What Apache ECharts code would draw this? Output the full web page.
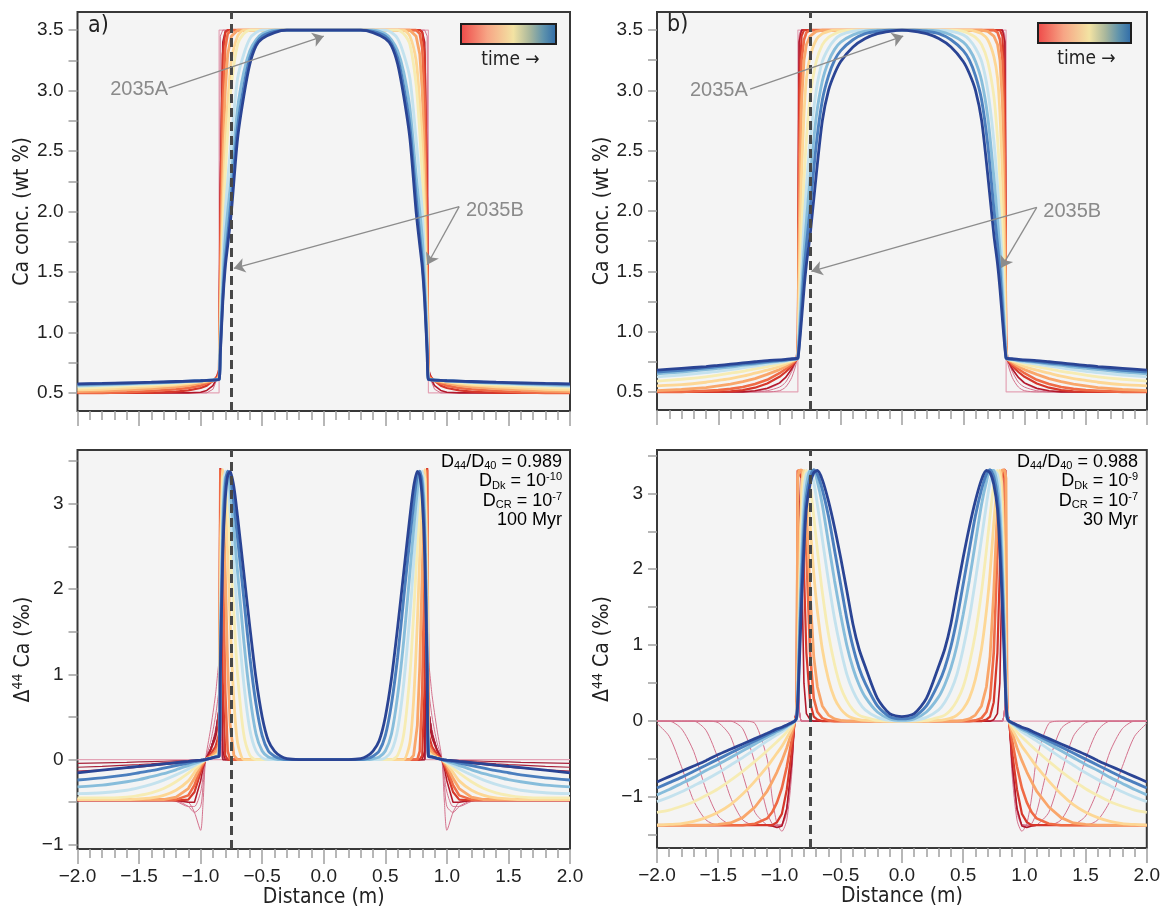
<!DOCTYPE html>
<html><head><meta charset="utf-8">
<script src="https://cdn.jsdelivr.net/npm/echarts@6/dist/echarts.min.js"></script>
<style>html,body{margin:0;padding:0;background:#fff}#c{width:1163px;height:909px}</style>
</head><body><div id="c"></div>
<script>
// ---------------- DATA (half profiles, x >= 0; profiles are symmetric about x = 0) ----------------
// Panel a (top): Ca concentration (wt %)
const xCaA = [0, 0.3, 0.4, 0.5, 0.55, 0.6, 0.65, 0.7, 0.75, 0.78, 0.8, 0.82, 0.84, 0.85, 0.88, 0.9, 0.95, 1.0, 1.1, 1.2, 1.4, 1.6, 1.8, 2.0];
const caA_p  = [3.5,3.5,3.5,3.5,3.5,3.5,3.5,3.5,3.5,3.5,3.5,3.5,3.45,0.68, 0.58,0.53,0.5,0.5,0.5,0.5,0.5,0.5,0.5,0.5];
const caA_1  = [3.5,3.5,3.5,3.5,3.5,3.5,3.5,3.5,3.5,3.5,3.49,3.4,2.2,0.7, 0.6,0.56,0.52,0.505,0.5,0.5,0.5,0.5,0.5,0.5];
const caA_2  = [3.5,3.5,3.5,3.5,3.5,3.5,3.5,3.5,3.5,3.5,3.48,3.3,2.0,0.66, 0.62,0.6,0.56,0.54,0.52,0.51,0.5,0.5,0.5,0.5];
const caA_3  = [3.5,3.5,3.5,3.5,3.5,3.5,3.5,3.5,3.5,3.47,3.35,2.9,1.6,0.64, 0.61,0.6,0.58,0.56,0.54,0.53,0.515,0.505,0.5,0.5];
const caA_4  = [3.5,3.5,3.5,3.5,3.5,3.5,3.5,3.5,3.45,3.3,3.0,2.4,1.3,0.63, 0.61,0.6,0.59,0.58,0.56,0.55,0.535,0.525,0.515,0.51];
const caA_5  = [3.5,3.5,3.5,3.5,3.5,3.5,3.5,3.45,3.25,2.9,2.6,2.0,1.1,0.62, 0.61,0.605,0.6,0.59,0.575,0.565,0.55,0.54,0.53,0.525];
const caA_6  = [3.5,3.5,3.5,3.5,3.5,3.5,3.47,3.38,3.05,2.65,2.3,1.8,1.0,0.62, 0.61,0.605,0.6,0.595,0.585,0.575,0.565,0.555,0.545,0.54];
const caA_7  = [3.5,3.5,3.5,3.5,3.48,3.43,3.3,3.1,2.6,2.25,2.0,1.6,0.95,0.62, 0.61,0.607,0.603,0.6,0.593,0.587,0.577,0.568,0.56,0.555];
const caA_8  = [3.5,3.5,3.5,3.47,3.42,3.33,3.15,2.85,2.3,2.0,1.78,1.4,0.9,0.61, 0.608,0.606,0.603,0.6,0.595,0.59,0.582,0.575,0.568,0.563];
const caA_9  = [3.5,3.5,3.49,3.45,3.39,3.27,3.03,2.7,2.12,1.8,1.6,1.3,0.85,0.61, 0.607,0.605,0.603,0.6,0.596,0.592,0.585,0.58,0.575,0.57];
const caA_10 = [3.5,3.5,3.48,3.43,3.37,3.22,2.95,2.6,2.0,1.72,1.54,1.25,0.82,0.61, 0.607,0.605,0.603,0.6,0.597,0.594,0.588,0.583,0.578,0.575];

// initial step profile (both top panels)
const xInitCa = [0, 0.85, 0.85, 2.0];
const yInitCa = [3.5, 3.5, 0.5, 0.5];

// Panel b (top): Ca concentration (wt %)
const xCaB = [0, 0.1, 0.2, 0.3, 0.4, 0.5, 0.55, 0.6, 0.65, 0.7, 0.75, 0.78, 0.8, 0.82, 0.84, 0.85, 0.86, 0.9, 0.95, 1.0, 1.1, 1.2, 1.3, 1.4, 1.5, 1.6, 1.8, 2.0];
const caB_p1 = [3.5,3.5,3.5,3.5,3.5,3.5,3.5,3.5,3.5,3.5,3.5,3.5,3.5,3.5,3.45,1.2, 0.76,0.62,0.54,0.51,0.5,0.5,0.5,0.5,0.5,0.5,0.5,0.5];
const caB_p2 = [3.5,3.5,3.5,3.5,3.5,3.5,3.5,3.5,3.5,3.5,3.5,3.5,3.5,3.5,3.42,1.1, 0.77,0.67,0.58,0.54,0.51,0.5,0.5,0.5,0.5,0.5,0.5,0.5];
const caB_p3 = [3.5,3.5,3.5,3.5,3.5,3.5,3.5,3.5,3.5,3.5,3.5,3.5,3.5,3.5,3.4,1.0, 0.77,0.7,0.62,0.57,0.525,0.505,0.5,0.5,0.5,0.5,0.5,0.5];
const caB_1  = [3.5,3.5,3.5,3.5,3.5,3.5,3.5,3.5,3.5,3.5,3.5,3.5,3.5,3.5,3.4,1.0, 0.77,0.69,0.62,0.575,0.53,0.51,0.5,0.5,0.5,0.5,0.5,0.5];
const caB_2  = [3.5,3.5,3.5,3.5,3.5,3.5,3.5,3.5,3.5,3.5,3.5,3.5,3.5,3.45,3.0,0.9, 0.77,0.715,0.665,0.625,0.57,0.535,0.515,0.505,0.5,0.5,0.5,0.5];
const caB_3  = [3.5,3.5,3.5,3.5,3.5,3.5,3.5,3.5,3.5,3.5,3.5,3.48,3.42,3.25,2.4,0.85, 0.77,0.73,0.69,0.655,0.6,0.565,0.54,0.525,0.515,0.51,0.5,0.5];
const caB_4  = [3.5,3.5,3.5,3.5,3.5,3.5,3.5,3.5,3.5,3.49,3.45,3.38,3.25,2.9,1.8,0.8, 0.77,0.745,0.71,0.685,0.645,0.61,0.585,0.565,0.55,0.535,0.52,0.51];
const caB_5  = [3.5,3.5,3.5,3.5,3.5,3.5,3.5,3.49,3.47,3.42,3.28,3.1,2.8,2.3,1.4,0.8, 0.775,0.755,0.73,0.71,0.68,0.655,0.63,0.61,0.595,0.58,0.56,0.55];
const caB_6  = [3.5,3.5,3.5,3.5,3.5,3.49,3.47,3.44,3.38,3.24,2.95,2.6,2.25,1.8,1.15,0.79, 0.775,0.76,0.745,0.73,0.71,0.69,0.67,0.655,0.64,0.625,0.605,0.59];
const caB_7  = [3.5,3.5,3.5,3.5,3.49,3.46,3.42,3.35,3.24,3.0,2.58,2.2,1.9,1.5,1.02,0.78, 0.775,0.765,0.755,0.745,0.73,0.715,0.7,0.685,0.67,0.66,0.64,0.625];
const caB_8  = [3.5,3.5,3.5,3.49,3.46,3.4,3.34,3.24,3.08,2.78,2.28,1.92,1.66,1.32,0.95,0.78, 0.775,0.77,0.76,0.755,0.745,0.73,0.72,0.705,0.695,0.685,0.665,0.65];
const caB_9  = [3.5,3.5,3.49,3.47,3.42,3.33,3.25,3.12,2.92,2.55,2.02,1.72,1.5,1.2,0.9,0.78, 0.775,0.77,0.765,0.76,0.75,0.74,0.73,0.72,0.71,0.7,0.68,0.665];
const caB_10 = [3.5,3.49,3.47,3.43,3.36,3.24,3.14,3.0,2.75,2.3,1.8,1.56,1.35,1.1,0.86,0.78, 0.777,0.775,0.77,0.765,0.76,0.75,0.74,0.73,0.72,0.71,0.695,0.68];

// Panel a (bottom): Δ44Ca (‰)
const xDA = [0, 0.2, 0.3, 0.35, 0.4, 0.45, 0.5, 0.55, 0.6, 0.65, 0.7, 0.73, 0.76, 0.78, 0.8, 0.82, 0.84, 0.85, 0.88, 0.92, 0.96, 0.98, 1.0, 1.05, 1.1, 1.2, 1.3, 1.4, 1.5, 1.6, 1.8, 2.0];
const dA_0  = [0,0,0,0,0,0,0,0,0,0,0,0,0,0,0,0,0,0, 0,0,0,0,0,0,0,0,0,0,0,0,0,0];
const dA_p1 = [0,0,0,0,0,0,0,0,0,0,0,0,0,0,0,0,0.5,1.15, 0.75,0.35,0,-0.5,-0.83,-0.62,-0.5,-0.47,-0.47,-0.47,-0.47,-0.47,-0.47,-0.47];
const dA_p2 = [0,0,0,0,0,0,0,0,0,0,0,0,0,0,0,0,0.4,0.8, 0.5,0.2,0,-0.3,-0.55,-0.62,-0.55,-0.48,-0.47,-0.47,-0.47,-0.47,-0.47,-0.47];
const dA_p3 = [0,0,0,0,0,0,0,0,0,0,0,0,0,0,0,0,0.3,0.55, 0.35,0.12,0,-0.2,-0.38,-0.55,-0.55,-0.49,-0.47,-0.47,-0.47,-0.47,-0.47,-0.47];
const dA_n1 = [0,0,0,0,0,0,0,0,0,0,0,0,0,0,0,0,2.5,0.6, 0.3,0.12,0,-0.002,-0.004,-0.008,-0.012,-0.016,-0.02,-0.024,-0.028,-0.032,-0.038,-0.045];
const dA_n2 = [0,0,0,0,0,0,0,0,0,0,0,0,0,0,0,0,2.5,0.6, 0.3,0.12,0,-0.003,-0.006,-0.013,-0.02,-0.03,-0.04,-0.05,-0.058,-0.065,-0.08,-0.09];
const dA_n3 = [0,0,0,0,0,0,0,0,0,0,0,0,0,0,0,0,2.5,0.6, 0.3,0.12,0,-0.005,-0.01,-0.02,-0.03,-0.045,-0.06,-0.075,-0.088,-0.1,-0.12,-0.135];
const dA_1  = [0,0,0,0,0,0,0,0,0,0,0,0,0,0,0,0.1,3.0,0.45, 0.25,0.1,0,-0.1,-0.25,-0.5,-0.5,-0.48,-0.48,-0.48,-0.48,-0.48,-0.48,-0.48];
const dA_2  = [0,0,0,0,0,0,0,0,0,0,0,0,0,0,0.05,0.9,3.42,0.3, 0.15,0.06,0,-0.07,-0.15,-0.38,-0.47,-0.48,-0.48,-0.48,-0.48,-0.48,-0.48,-0.48];
const dA_3  = [0,0,0,0,0,0,0,0,0,0,0,0,0,0.1,0.8,2.4,3.4,0.2, 0.1,0.04,0,-0.05,-0.1,-0.3,-0.42,-0.47,-0.47,-0.47,-0.47,-0.47,-0.47,-0.47];
const dA_4  = [0,0,0,0,0,0,0,0,0,0,0,0.05,0.4,1.1,2.2,3.3,2.6,0.15, 0.08,0.03,0,-0.035,-0.07,-0.22,-0.34,-0.44,-0.47,-0.47,-0.47,-0.47,-0.47,-0.47];
const dA_5  = [0,0,0,0,0,0,0,0,0,0,0.2,0.7,1.6,2.4,3.1,3.4,1.9,0.1, 0.05,0.02,0,-0.025,-0.05,-0.15,-0.25,-0.36,-0.42,-0.45,-0.46,-0.47,-0.47,-0.47];
const dA_6  = [0,0,0,0,0,0,0,0,0.05,0.3,1.0,1.7,2.5,3.0,3.35,3.3,1.6,0.08, 0.04,0.02,0,-0.02,-0.04,-0.1,-0.16,-0.26,-0.34,-0.39,-0.42,-0.44,-0.45,-0.45];
const dA_7  = [0,0,0,0,0,0,0.02,0.1,0.35,0.9,1.7,2.3,2.9,3.25,3.38,3.0,1.4,0.06, 0.035,0.015,0,-0.015,-0.03,-0.07,-0.11,-0.18,-0.24,-0.29,-0.33,-0.36,-0.39,-0.4];
const dA_8  = [0,0,0,0,0.01,0.03,0.1,0.3,0.75,1.4,2.2,2.7,3.15,3.35,3.3,2.8,1.2,0.05, 0.03,0.015,0,-0.01,-0.02,-0.045,-0.07,-0.12,-0.165,-0.2,-0.235,-0.26,-0.3,-0.32];
const dA_9  = [0,0,0,0.01,0.04,0.1,0.28,0.65,1.2,1.9,2.6,3.0,3.33,3.38,3.2,2.6,1.1,0.04, 0.03,0.015,0,-0.006,-0.012,-0.025,-0.04,-0.07,-0.1,-0.13,-0.155,-0.18,-0.215,-0.24];
const dA_10 = [0,0,0.01,0.04,0.1,0.22,0.5,0.95,1.55,2.2,2.85,3.2,3.38,3.33,3.05,2.4,1.0,0.04, 0.03,0.015,0,-0.003,-0.006,-0.013,-0.021,-0.036,-0.051,-0.066,-0.08,-0.095,-0.125,-0.155];

// Panel b (bottom): Δ44Ca (‰)
const xDB = [0, 0.1, 0.2, 0.3, 0.35, 0.4, 0.45, 0.5, 0.55, 0.6, 0.65, 0.69, 0.72, 0.75, 0.78, 0.8, 0.82, 0.84, 0.85, 0.86, 0.875, 0.9, 0.94, 0.98, 1.02, 1.06, 1.1, 1.2, 1.3, 1.4, 1.5, 1.6, 1.7, 1.8, 1.9, 2.0];
const dB_0  = [0,0,0,0,0,0,0,0,0,0,0,0,0,0,0,0,0,0,0, 0,0,0,0,0,0,0,0,0,0,0,0,0,0,0,0,0];
const dB_p1 = [0,0,0,0,0,0,0,0,0,0,0,0,0,0,0,0,0,0.2,3.3, 0.3,0,-0.7,-1.3,-1.45,-1.35,-1.0,-0.5,-0.03,0,0,0,0,0,0,0,0];
const dB_p2 = [0,0,0,0,0,0,0,0,0,0,0,0,0,0,0,0,0,0.2,3.3, 0.25,0,-0.6,-1.2,-1.38,-1.4,-1.35,-1.2,-0.55,-0.1,0,0,0,0,0,0,0];
const dB_p3 = [0,0,0,0,0,0,0,0,0,0,0,0,0,0,0,0,0,0.2,3.3, 0.2,0,-0.55,-1.15,-1.36,-1.38,-1.38,-1.37,-1.2,-0.7,-0.2,-0.02,0,0,0,0,0];
const dB_p4 = [0,0,0,0,0,0,0,0,0,0,0,0,0,0,0,0,0,0.2,3.3, 0.2,0,-0.55,-1.15,-1.36,-1.37,-1.37,-1.37,-1.37,-1.3,-1.0,-0.5,-0.12,0,0,0,0];
const dB_p5 = [0,0,0,0,0,0,0,0,0,0,0,0,0,0,0,0,0,0.2,3.3, 0.2,0,-0.55,-1.15,-1.36,-1.37,-1.37,-1.37,-1.37,-1.37,-1.36,-1.25,-0.9,-0.4,-0.1,0,0];
const dB_p6 = [0,0,0,0,0,0,0,0,0,0,0,0,0,0,0,0,0,0.2,3.3, 0.2,0,-0.55,-1.15,-1.36,-1.37,-1.37,-1.37,-1.37,-1.37,-1.37,-1.37,-1.3,-1.05,-0.6,-0.2,-0.03];
const dB_1  = [0,0,0,0,0,0,0,0,0,0,0,0,0,0.02,0.1,0.5,2.2,3.3,3.3, 0.15,0,-0.55,-1.15,-1.38,-1.4,-1.38,-1.37,-1.37,-1.37,-1.37,-1.37,-1.37,-1.37,-1.37,-1.37,-1.37];
const dB_2  = [0,0,0,0,0,0,0,0,0,0,0,0.02,0.06,0.25,0.9,2.0,3.2,3.32,3.3, 0.1,0,-0.4,-0.9,-1.22,-1.33,-1.37,-1.37,-1.37,-1.37,-1.37,-1.37,-1.37,-1.37,-1.37,-1.37,-1.37];
const dB_3  = [0,0,0,0,0,0,0,0,0,0.01,0.04,0.12,0.3,0.9,2.2,3.0,3.3,3.31,3.3, 0.08,0,-0.25,-0.6,-0.88,-1.07,-1.2,-1.28,-1.35,-1.37,-1.37,-1.37,-1.37,-1.37,-1.37,-1.37,-1.37];
const dB_4  = [0,0,0,0,0,0,0,0.01,0.03,0.08,0.2,0.45,0.85,1.7,2.8,3.2,3.31,3.3,3.2, 0.06,0,-0.15,-0.35,-0.52,-0.67,-0.8,-0.92,-1.13,-1.27,-1.34,-1.36,-1.37,-1.37,-1.37,-1.37,-1.37];
const dB_5  = [0,0,0,0.01,0.02,0.04,0.08,0.16,0.3,0.55,0.95,1.45,1.95,2.6,3.15,3.3,3.0,1.6,0.5, 0.05,0,-0.1,-0.22,-0.33,-0.42,-0.51,-0.6,-0.79,-0.96,-1.1,-1.2,-1.27,-1.32,-1.35,-1.36,-1.37];
const dB_6  = [0,0,0.01,0.05,0.08,0.15,0.27,0.45,0.75,1.15,1.7,2.25,2.7,3.1,3.3,3.2,2.6,1.3,0.45, 0.05,0,-0.06,-0.14,-0.21,-0.27,-0.33,-0.39,-0.53,-0.66,-0.78,-0.89,-0.98,-1.06,-1.12,-1.17,-1.2];
const dB_7  = [0,0.01,0.05,0.15,0.25,0.4,0.62,0.95,1.35,1.85,2.4,2.85,3.15,3.3,3.25,3.0,2.3,1.1,0.4, 0.05,0,-0.04,-0.09,-0.14,-0.18,-0.22,-0.26,-0.37,-0.48,-0.58,-0.68,-0.77,-0.85,-0.93,-1.0,-1.06];
const dB_8  = [0.01,0.03,0.12,0.32,0.48,0.7,1.0,1.4,1.85,2.35,2.85,3.15,3.3,3.3,3.1,2.75,2.05,0.95,0.35, 0.04,0,-0.03,-0.07,-0.11,-0.14,-0.18,-0.21,-0.3,-0.39,-0.48,-0.57,-0.65,-0.74,-0.82,-0.9,-0.97];
const dB_9  = [0.03,0.06,0.2,0.5,0.7,0.98,1.35,1.8,2.25,2.7,3.05,3.25,3.31,3.22,2.95,2.5,1.8,0.8,0.3, 0.04,0,-0.02,-0.06,-0.09,-0.12,-0.15,-0.18,-0.26,-0.34,-0.42,-0.5,-0.58,-0.66,-0.74,-0.81,-0.88];
const dB_10 = [0.06,0.1,0.3,0.72,0.95,1.28,1.72,2.15,2.55,2.9,3.18,3.3,3.27,3.12,2.8,2.26,1.55,0.65,0.25, 0.05,0,-0.02,-0.05,-0.08,-0.1,-0.13,-0.16,-0.23,-0.3,-0.37,-0.44,-0.52,-0.59,-0.66,-0.73,-0.8];

// reference line and annotations (data coordinates)
const dashX = -0.75;
const arrowsA = [[[-1.26, 3.02], [0.0, 3.45]], [[1.1, 2.04], [-0.73, 1.53]], [[1.1, 2.04], [0.84, 1.56]]];
const labelsA = [['2035A', -1.5, 3.01], ['2035B', 1.39, 2.01]];
const arrowsB = [[[-1.24, 3.01], [0.01, 3.45]], [[1.1, 2.03], [-0.74, 1.5]], [[1.1, 2.03], [0.81, 1.53]]];
const labelsB = [['2035A', -1.495, 3.0], ['2035B', 1.39, 2.0]];

// tick labels
const caTicks = [0.5, 1.0, 1.5, 2.0, 2.5, 3.0, 3.5];
const caMinor = [0.5, 0.75, 1.0, 1.25, 1.5, 1.75, 2.0, 2.25, 2.5, 2.75, 3.0, 3.25, 3.5];
const dTicks = [-1, 0, 1, 2, 3];
const dMinorA = [-1, -0.5, 0, 0.5, 1, 1.5, 2, 2.5, 3, 3.5];
const dMinorB = [-1.5, -1, -0.5, 0, 0.5, 1, 1.5, 2, 2.5, 3, 3.5];

// ---------------- STYLE ----------------
const TIME_COLORS = ['#b2182b', '#d6372b', '#ef6a45', '#f9a66a', '#fdd795', '#f6ecb4', '#c4e2ee', '#87bddb', '#4b7fbe', '#2a4494'];
const TIME_WIDTHS = [1.6, 2.2, 2.6, 2.8, 2.8, 2.8, 2.9, 2.9, 2.9, 2.8];
const PINK = '#d4728d';
const FONT_N = "'DejaVu Sans Condensed','DejaVu Sans',sans-serif";
const FONT_T = "'Liberation Sans Narrow','Liberation Sans',sans-serif";
const FONT_A = "'Liberation Sans',Arial,sans-serif";

function mirror(xs, ys) {
  const out = [];
  for (let i = xs.length - 1; i > 0; i--) out.push([-xs[i], ys[i]]);
  for (let i = 0; i < xs.length; i++) out.push([xs[i], ys[i]]);
  return out;
}
function line(gi, xs, ys, color, width, extra, smooth) {
  return Object.assign({
    type: 'line', xAxisIndex: gi, yAxisIndex: gi, data: mirror(xs, ys),
    showSymbol: false, symbol: 'none', silent: true, animation: false,
    smooth: smooth || false,
    lineStyle: { color: color, width: width }
  }, extra || {});
}
function overlay(arrows, labels) {
  const o = {
    markLine: {
      silent: true, animation: false, symbol: 'none', symbolSize: 11,
      label: { show: false },
      lineStyle: { color: '#8c8c8c', width: 1.3, type: 'solid' },
      data: [{ xAxis: dashX, lineStyle: { color: '#474747', width: 3, type: [9, 5] } }]
        .concat(arrows.map(a => [{ coord: a[0], symbol: 'none' }, { coord: a[1], symbol: 'arrow', symbolSize: 11 }]))
    }
  };
  if (labels.length) {
    o.markPoint = {
      silent: true, animation: false,
      data: labels.map(l => ({
        coord: [l[1], l[2]], symbol: 'circle', symbolSize: 0,
        label: { show: true, formatter: l[0], position: 'inside', color: '#8a8a8a', fontSize: 20, fontFamily: FONT_A }
      }))
    };
  }
  return o;
}
const SM = i => (i >= 4 ? 0.25 : false);

const series = [];
// grid 0: panel a top
series.push(line(0, xInitCa, yInitCa, '#e3a3b5', 1.2));
series.push(line(0, xCaA, caA_p, PINK, 1));
[caA_1, caA_2, caA_3, caA_4, caA_5, caA_6, caA_7, caA_8, caA_9, caA_10].forEach((ys, i) =>
  series.push(line(0, xCaA, ys, TIME_COLORS[i], TIME_WIDTHS[i], i === 9 ? overlay(arrowsA, labelsA) : null, SM(i))));
// grid 1: panel b top
series.push(line(1, xInitCa, yInitCa, '#e3a3b5', 1.2));
[caB_p1, caB_p2, caB_p3].forEach(ys => series.push(line(1, xCaB, ys, PINK, 1, null, 0.25)));
[caB_1, caB_2, caB_3, caB_4, caB_5, caB_6, caB_7, caB_8, caB_9, caB_10].forEach((ys, i) =>
  series.push(line(1, xCaB, ys, TIME_COLORS[i], TIME_WIDTHS[i], i === 9 ? overlay(arrowsB, labelsB) : null, SM(i))));
// grid 2: panel a bottom
series.push(line(2, xDA, dA_0, '#e3a3b5', 1.2));
[dA_p1, dA_p2, dA_p3].forEach(ys => series.push(line(2, xDA, ys, PINK, 1, null, 0.25)));
[dA_n1, dA_n2, dA_n3].forEach(ys => series.push(line(2, xDA, ys, '#a8233b', 1.2)));
[dA_1, dA_2, dA_3, dA_4, dA_5, dA_6, dA_7, dA_8, dA_9, dA_10].forEach((ys, i) =>
  series.push(line(2, xDA, ys, TIME_COLORS[i], TIME_WIDTHS[i], i === 9 ? overlay([], []) : null, SM(i))));
// grid 3: panel b bottom
series.push(line(3, xDB, dB_0, '#e3a3b5', 1.2));
[dB_p1, dB_p2, dB_p3, dB_p4, dB_p5, dB_p6].forEach(ys => series.push(line(3, xDB, ys, PINK, 1, null, 0.25)));
[dB_1, dB_2, dB_3, dB_4, dB_5, dB_6, dB_7, dB_8, dB_9, dB_10].forEach((ys, i) =>
  series.push(line(3, xDB, ys, TIME_COLORS[i], TIME_WIDTHS[i], i === 9 ? overlay([], []) : null, SM(i))));

const minus = s => s.replace('-', '\u2212');
const fmt1 = v => minus(v.toFixed(1));
const fmt0 = v => minus(String(Math.round(v)));

const gridStyle = { show: true, backgroundColor: '#f4f4f4', borderColor: '#383838', borderWidth: 2 };
const grids = [
  Object.assign({ left: 77.5, top: 12, width: 492.5, height: 399 }, gridStyle),
  Object.assign({ left: 657, top: 12, width: 490, height: 398 }, gridStyle),
  Object.assign({ left: 77.5, top: 450, width: 492.5, height: 400 }, gridStyle),
  Object.assign({ left: 657, top: 450, width: 490, height: 398 }, gridStyle)
];

function xAxis(gi, labels) {
  return {
    gridIndex: gi, type: 'value', min: -2, max: 2, interval: 0.5, position: 'bottom',
    axisLine: { show: false, onZero: false },
    axisTick: { show: true, length: 15, lineStyle: { color: '#a0a0a0', width: 1.5 } },
    minorTick: { show: true, splitNumber: 5, length: 9, lineStyle: { color: '#a0a0a0', width: 1.5 } },
    splitLine: { show: false }, minorSplitLine: { show: false },
    axisLabel: { show: labels, formatter: fmt1, color: '#222', fontSize: 19, fontFamily: FONT_T, margin: 18 },
    name: labels ? 'Distance (m)' : '', nameLocation: 'middle', nameGap: 34,
    nameTextStyle: { color: '#222', fontSize: 21, fontFamily: FONT_N }
  };
}
function yAxis(gi, min, max, labels, ticks, fmt, name, rich) {
  return {
    gridIndex: gi, type: 'value', min: min, max: max, position: 'left',
    axisLine: { show: false, onZero: false },
    axisTick: { show: true, length: 9, customValues: ticks, lineStyle: { color: '#a0a0a0', width: 1.5 } },
    splitLine: { show: false },
    axisLabel: { customValues: labels, formatter: fmt, color: '#222', fontSize: 19, fontFamily: FONT_T, margin: 14 },
    name: name, nameLocation: 'middle', nameGap: 42,
    nameTextStyle: Object.assign({ color: '#222', fontSize: 21, fontFamily: FONT_N }, rich ? { rich: rich } : {})
  };
}
const deltaRich = {
  n: { fontSize: 21, fontFamily: FONT_N, color: '#222', lineHeight: 24 },
  s: { fontSize: 14, fontFamily: FONT_N, color: '#222', verticalAlign: 'top', lineHeight: 14 }
};
const deltaName = '{n|\u0394}{s|44}{n| Ca (\u2030)}';

const paramRich = {
  n: { fontSize: 18, fontFamily: FONT_A, color: '#1a1a1a', lineHeight: 19.5, align: 'right' },
  s: { fontSize: 11, fontFamily: FONT_A, color: '#1a1a1a', verticalAlign: 'bottom', align: 'right' },
  p: { fontSize: 11, fontFamily: FONT_A, color: '#1a1a1a', verticalAlign: 'top', align: 'right' }
};
function paramText(x, ratio, dk, myr) {
  return {
    type: 'text', right: 1163 - x, top: 453, z: 100,
    style: {
      text: '{n|D}{s|44}{n|/D}{s|40}{n| = ' + ratio + '}\n{n|D}{s|Dk}{n| = 10}{p|' + dk + '}\n{n|D}{s|CR}{n| = 10}{p|-7}\n{n|' + myr + '}',
      rich: paramRich, align: 'right'
    }
  };
}
const legendGrad = { type: 'linear', x: 0, y: 0, x2: 1, y2: 0, colorStops: [
  { offset: 0, color: '#ee4747' }, { offset: 0.28, color: '#f7a585' }, { offset: 0.55, color: '#f3e3a3' },
  { offset: 0.72, color: '#a9b79c' }, { offset: 0.86, color: '#5f93ac' }, { offset: 1, color: '#2c69a8' }] };
function legend(x0, y0, w, h) {
  return [
    { type: 'rect', shape: { x: x0, y: y0, width: w, height: h }, style: { fill: legendGrad, stroke: '#1e1e1e', lineWidth: 2 }, z: 100 },
    { type: 'text', x: x0 + w / 2 + 2, y: y0 + h + 16, z: 100,
      style: { text: 'time \u2192', fill: '#222', font: '19px ' + FONT_N, textAlign: 'center', textVerticalAlign: 'middle' } }
  ];
}

const option = {
  animation: false,
  grid: grids,
  xAxis: [xAxis(0, false), xAxis(1, false), xAxis(2, true), xAxis(3, true)],
  yAxis: [
    yAxis(0, 0.35, 3.65, caTicks, caMinor, fmt1, 'Ca conc. (wt %)'),
    yAxis(1, 0.35, 3.65, caTicks, caMinor, fmt1, 'Ca conc. (wt %)'),
    yAxis(2, -1.05, 3.63, dTicks, dMinorA, fmt0, deltaName, deltaRich),
    yAxis(3, -1.67, 3.57, dTicks, dMinorB, fmt0, deltaName, deltaRich)
  ],
  series: series,
  graphic: [
    { type: 'text', left: 88, top: 15, z: 100, style: { text: 'a)', fill: '#222', font: '23px ' + FONT_N } },
    { type: 'text', left: 667, top: 14, z: 100, style: { text: 'b)', fill: '#222', font: '23px ' + FONT_N } },
    ...legend(461, 24, 95, 20),
    ...legend(1038, 23, 93, 20),
    paramText(562, '0.989', '-10', '100 Myr'),
    paramText(1138, '0.988', '-9', '30 Myr')
  ]
};
const chart = echarts.init(document.getElementById('c'));
chart.setOption(option);
</script>
</body></html>
